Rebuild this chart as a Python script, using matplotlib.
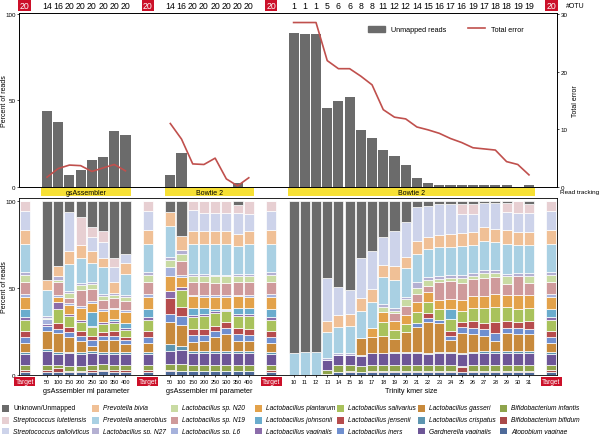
import matplotlib.pyplot as plt
import matplotlib.transforms as mtransforms
import numpy as np
from matplotlib.lines import Line2D
from matplotlib.patches import Patch, Rectangle

plt.rcParams["font.family"] = ["Liberation Sans", "DejaVu Sans"]

# ---- data -------------------------------------------------------------------
species = [
    "Unknown/Unmapped", "Streptococcus lutetiensis", "Streptococcus gallolyticus",
    "Prevotella bivia", "Prevotella anaerobius", "Lactobacillus sp. N27",
    "Lactobacillus sp. N20", "Lactobacillus sp. N19", "Lactobacillus sp. L6",
    "Lactobacillus plantarum", "Lactobacillus johnsonii", "Lactobacillus vaginalis",
    "Lactobacillus salivarius", "Lactobacillus jensenii", "Lactobacillus iners",
    "Lactobacillus gasseri", "Lactobacillus crispatus", "Gardnerella vaginalis",
    "Bifidobacterium infantis", "Bifidobacterium bifidum", "Atopobium vaginae",
]
species_colors = [
    "#6b6b6b", "#e7cfd2", "#cdd3ea", "#f0c096", "#a9d0e3", "#b4b0d2", "#c9dba3",
    "#cf9a9b", "#a6b2dc", "#e3a24a", "#6aaccd", "#8b6caa", "#a9c25c", "#b64c4d",
    "#6f8fcf", "#c88a3c", "#5d95b0", "#6d5697", "#8fa44c", "#a94a4a", "#4e6a99",
]

# percent of reads per species (order as in `species`)
target_comp = [0, 5.5, 11, 8, 16.5, 1.5, 4, 7, 1.5, 7, 4.5, 2, 6, 3.5, 3.5, 5, 1.2, 6.8, 2.7, 0.8, 2]

gs_params = [50, 100, 150, 200, 250, 300, 350, 400]
gs_comp = [
    [45, 0, 0, 6, 15, 1, 0.5, 0, 3, 0, 0, 1, 0, 0, 3, 10, 1, 8, 3, 1, 2],
    [37, 0, 0, 6, 0, 2, 1, 8, 1, 2.5, 0, 4, 8, 3.5, 2.5, 11, 1, 6, 2, 2, 2],
    [6, 0, 22, 7, 15, 1, 3, 3, 1, 5, 0, 1, 6, 3, 3, 8, 1, 7, 2.5, 1, 1.5],
    [9, 16, 0, 7, 14, 1, 3, 9, 1, 7, 0, 1, 5, 3, 3, 6, 1, 7, 2.5, 1, 1.5],
    [15, 6, 8, 7, 11, 1, 3, 7, 1, 5, 8, 1, 5, 2.5, 3, 3, 1, 7, 3, 1, 2],
    [17, 6, 9, 5.5, 15, 1, 2.5, 5, 1, 6.5, 0, 1, 4.5, 2.5, 2, 7, 1, 6, 3, 1, 2],
    [32.5, 5, 9, 6, 0, 1, 2, 5.5, 1, 5.5, 1, 1, 5, 2.5, 2.5, 7, 1, 6, 3, 1, 2],
    [30, 0, 5.5, 6, 12.5, 1, 2, 5.5, 1, 6, 3, 1, 4, 2, 2, 5, 1, 6, 3, 1, 2],
]

bt_params = [50, 100, 150, 200, 250, 300, 350, 400]
bt_comp = [
    [6, 0, 0, 8, 17, 1.5, 4, 0, 5, 8.5, 0, 4, 0, 8.5, 4.5, 12.5, 3.5, 7.5, 3.5, 0.5, 2],
    [20, 0, 0, 8, 0, 2, 4, 8, 1, 6, 0, 1.5, 10, 5, 5, 12, 2.5, 8, 3.5, 0.5, 2],
    [0, 5, 12, 7.5, 17, 1, 3.5, 7, 1, 6.5, 4, 1, 7, 3.5, 4, 5, 1, 7, 3, 0.5, 2],
    [0, 6.5, 10, 7.5, 17, 1, 3.5, 7, 1, 6.5, 3.5, 1, 7, 3.5, 3.5, 5.5, 1, 7, 3, 0.5, 2],
    [0, 6.5, 10, 7.5, 17, 1, 3.5, 7, 1, 6.5, 1.5, 1, 7, 3, 3.5, 7.5, 1, 7, 3, 0.5, 2],
    [0, 6.5, 10, 7.5, 17, 1, 3.5, 7, 1, 6.5, 0.5, 1, 6, 3.5, 3, 9.5, 1, 7, 3, 0.5, 2],
    [2, 4.5, 12, 7, 16, 1, 3.5, 7, 1, 6.5, 3.5, 1, 7, 3.5, 3.5, 6, 1, 7, 3, 0.5, 2],
    [0, 7, 9.5, 7.5, 17, 1, 3.5, 7, 1, 6.5, 3.5, 1, 7, 3.5, 3.5, 5.5, 1, 7, 3, 0.5, 2],
]

kmers = list(range(10, 32))
tr_comp = [
    [87.5, 0, 0, 0, 12.5, 0, 0, 0, 0, 0, 0, 0, 0, 0, 0, 0, 0, 0, 0, 0, 0],
    [86.5, 0, 0, 0, 13.5, 0, 0, 0, 0, 0, 0, 0, 0, 0, 0, 0, 0, 0, 0, 0, 0],
    [86.5, 0, 0, 0, 13.5, 0, 0, 0, 0, 0, 0, 0, 0, 0, 0, 0, 0, 0, 0, 0, 0],
    [44, 0, 24, 6.5, 15, 1, 0, 0, 0, 0, 0, 0, 0, 0, 0, 0, 0, 5.5, 2.5, 0, 0.5],
    [49, 0, 16, 7, 15, 1, 0, 0, 0, 0, 0, 0, 0, 0, 0, 0, 0, 6, 3.5, 0.5, 1.5],
    [50.5, 0, 13.5, 7, 15, 1, 0, 0, 0, 0, 0, 0, 0, 0, 0, 0, 0, 6, 3.5, 0.5, 1.5],
    [32, 0, 23, 7.5, 15, 0, 0, 0, 0, 0, 0, 0, 0, 0, 0, 9.5, 0.5, 6, 3.5, 0, 1.5],
    [28, 0, 21, 7, 15, 0, 0, 0, 0, 5, 0, 0, 0, 0, 0, 9, 0, 6.5, 3.5, 0.5, 1.5],
    [20, 0, 15.5, 7, 15, 1.5, 3, 0, 0, 5.5, 0, 0, 7.5, 0, 0, 9.5, 0.5, 6.5, 3.5, 0.5, 1.5],
    [16, 0, 19, 7.5, 15, 1.5, 1, 4.5, 0, 5, 0, 0, 4.5, 0, 0, 7, 0.5, 6.5, 3.5, 0.5, 1.5],
    [11.5, 0, 19, 6.5, 15.5, 1.5, 3.5, 5, 0, 5, 0, 0, 4.5, 0, 0, 11, 0.5, 6.5, 3.5, 0.5, 1.5],
    [3, 0, 19, 7, 15.5, 3, 3.5, 4.5, 0, 5.5, 0, 0, 6, 0, 2, 14, 0.5, 6.5, 3.5, 0.5, 1.5],
    [2.5, 0, 17.5, 7, 15.5, 2, 3, 3.5, 0, 5.5, 0, 0, 6.5, 2.5, 2.5, 17, 0.5, 6.5, 3.5, 0.5, 1.5],
    [1.5, 0, 17, 6.5, 16, 1.5, 2, 10, 0, 5, 0, 0, 6, 0, 1.5, 16, 0.5, 6.5, 3.5, 0.5, 1.5],
    [1.5, 0, 16.5, 7, 15.5, 1.5, 2, 10, 0, 5, 6, 0, 6.5, 2.5, 2.5, 6.5, 0.5, 6.5, 3.5, 0.5, 1.5],
    [1.5, 5.5, 10, 7, 15.5, 1.5, 2.5, 9, 0, 6, 0, 0, 6, 2.5, 3, 11, 0.5, 6, 0.5, 3, 1.5],
    [1.5, 5.5, 10, 7, 15, 1.5, 2, 9, 0, 6.5, 0, 0, 7, 4, 3, 10, 0.5, 6.5, 3.5, 0.5, 1.5],
    [1, 0, 13, 7.5, 15.5, 1.5, 2.5, 9.5, 0, 6.5, 0, 0, 8, 3.5, 3.5, 8, 1, 6.5, 3.5, 0.5, 1.5],
    [1, 0, 14, 7, 15.5, 1.5, 2.5, 9, 0, 7, 0, 0, 8, 6, 4.5, 5.5, 1, 6.5, 3.5, 0.5, 1.5],
    [1, 5, 9.5, 7.5, 16, 1, 4.5, 6, 0, 6.5, 0, 0, 7.5, 3.5, 3, 9.5, 1, 6.5, 3.5, 0.5, 1.5],
    [0, 6.5, 10, 7, 15, 1.5, 0.5, 10, 0, 7.5, 0, 0, 7, 3, 3.5, 9, 1, 6.5, 3.5, 0.5, 1.5],
    [1.5, 5, 10, 7, 15.5, 1.5, 3.5, 6.5, 0, 7.5, 0, 0, 7, 4, 3, 9, 1, 6.5, 3.5, 0.5, 1.5],
]

# read tracking panel
unmapped_gs = [43.8, 37.4, 7.1, 9.8, 15.4, 17.3, 32.5, 30.1]
unmapped_bt = [7.1, 19.7, 0, 0, 0, 0, 2.3, 0]
unmapped_tr = [89.2, 88.2, 88.6, 45.7, 49.9, 52.0, 32.9, 28.1, 21.6, 17.7, 12.9,
               5.2, 2.5, 1.3, 1.3, 1.3, 1.3, 0.9, 0.9, 0.9, 0, 1.3]
error_gs = [1.7, 3.2, 3.8, 3.7, 2.7, 3.3, 3.9, 2.8]
error_bt = [11.0, 8.3, 4.0, 3.9, 5.0, 1.4, 0.2, 1.6]
error_tr = [28.5, 28.5, 28.5, 21.9, 20.5, 20.5, 19.2, 17.7, 13.4, 12.1, 11.8,
            10.4, 9.9, 9.3, 8.4, 7.7, 6.8, 6.6, 6.4, 4.4, 3.9, 2.1]

otu_target = 20
otu_gs = [14, 16, 20, 20, 20, 20, 20, 20]
otu_bt = [14, 16, 20, 20, 20, 20, 20, 20]
otu_tr = [1, 1, 1, 5, 6, 6, 8, 8, 11, 12, 12, 14, 15, 16, 17, 16, 19, 17, 18, 18, 19, 19]

band_labels = ["gsAssembler", "Bowtie 2", "Bowtie 2"]
group_titles = ["gsAssembler ml parameter", "gsAssembler ml parameter", "Trinity kmer size"]

BAR_GRAY = "#6b6b6b"
ERR_RED = "#c0504d"
BOX_RED = "#cc1029"
BAND_YELLOW = "#f7e034"


def main() -> None:
    # slot layout (one slot per column)
    target_slots = np.array([0, 11, 22, 47])
    gs_slots = np.arange(2, 10)
    bt_slots = np.arange(13, 21)
    tr_slots = np.arange(24, 46)
    groups = [gs_slots, bt_slots, tr_slots]

    fig = plt.figure(figsize=(6, 4.35), dpi=100)
    left, width = 19 / 600, 538 / 600
    ax_top = fig.add_axes([left, 247 / 435, width, 174 / 435])
    ax_band = fig.add_axes([left, 236 / 435, width, 11 / 435])
    ax_bot = fig.add_axes([left, 59 / 435, width, 177 / 435])

    # ---- read tracking ----
    for slots, vals in zip(groups, [unmapped_gs, unmapped_bt, unmapped_tr]):
        ax_top.bar(slots + 0.5, vals, width=0.9, color=BAR_GRAY)
    ax_err = ax_top.twinx()
    for slots, vals in zip(groups, [error_gs, error_bt, error_tr]):
        ax_err.plot(slots + 0.5, vals, color=ERR_RED, lw=1.2)
    ax_top.set_xlim(0, 48)
    ax_top.set_ylim(0, 100.5)
    ax_err.set_ylim(0, 30.15)
    ax_top.set_xticks([])
    ax_top.set_yticks([0, 50, 100])
    ax_err.set_yticks([0, 10, 20, 30])
    for a in (ax_top, ax_err):
        a.tick_params(labelsize=4.5, length=1.5, width=0.5, pad=1)
        for s in a.spines.values():
            s.set_linewidth(0.6)
    ax_top.set_ylabel("Percent of reads", fontsize=5)
    ax_top.yaxis.set_label_coords(-0.021, 0.5)
    ax_err.set_ylabel("Total error", fontsize=5, labelpad=3)
    handles = [Patch(color=BAR_GRAY), Line2D([], [], color=ERR_RED, lw=1.2)]
    ax_err.legend(handles, ["Unmapped reads", "Total error"], ncol=2, frameon=False,
                  fontsize=5.2, loc="upper right", bbox_to_anchor=(0.95, 0.965),
                  handlelength=2.4, handleheight=0.9, columnspacing=3.0)

    # OTU counts above the top panel
    trans = mtransforms.blended_transform_factory(ax_top.transData, ax_top.transAxes)
    for s in target_slots:
        ax_top.text(s + 0.5, 1.045, str(otu_target), transform=trans, ha="center",
                    va="center", fontsize=6.3, color="white",
                    bbox=dict(boxstyle="square,pad=0.15", fc=BOX_RED, ec="none"))
    for slots, vals in zip(groups, [otu_gs, otu_bt, otu_tr]):
        for s, v in zip(slots, vals):
            ax_top.text(s + 0.5, 1.045, str(v), transform=trans, ha="center",
                        va="center", fontsize=6.3)
    fig.text(566 / 600, 1 - 6.5 / 435, "#OTU", fontsize=5, va="center")

    # ---- method bands ----
    ax_band.set_xlim(0, 48)
    ax_band.set_ylim(0, 1)
    ax_band.axis("off")
    for slots, label in zip(groups, band_labels):
        x0, x1 = slots[0], slots[-1] + 1
        ax_band.add_patch(Rectangle((x0, 0.18), x1 - x0, 0.73, color=BAND_YELLOW, lw=0))
        ax_band.text((x0 + x1) / 2, 0.54, label, ha="center", va="center", fontsize=5)
    fig.text(560 / 600, 1 - 193 / 435, "Read tracking", fontsize=4.6, va="center")

    # ---- composition ----
    cols_x = np.concatenate([target_slots, gs_slots, bt_slots, tr_slots]) + 0.5
    comps = np.array([target_comp] * 4 + gs_comp + bt_comp + tr_comp, dtype=float)
    comps = comps / comps.sum(axis=1, keepdims=True) * 100
    bottom = np.zeros(len(cols_x))
    for i in range(len(species) - 1, -1, -1):
        ax_bot.bar(cols_x, comps[:, i], bottom=bottom, width=0.9,
                   color=species_colors[i], edgecolor="white", linewidth=0.5)
        bottom += comps[:, i]
    ax_bot.set_xlim(0, 48)
    ax_bot.set_ylim(0, 101.8)
    ax_bot.set_yticks([0, 50, 100])
    tick_x = np.concatenate([gs_slots, bt_slots, tr_slots]) + 0.5
    tick_lab = [str(v) for v in gs_params + bt_params + kmers]
    ax_bot.set_xticks(tick_x, tick_lab)
    ax_bot.tick_params(labelsize=4, length=1.5, width=0.5, pad=1.5)
    ax_bot.tick_params(axis="y", labelsize=4.5, pad=1)
    for s in ax_bot.spines.values():
        s.set_linewidth(0.6)
    ax_bot.set_ylabel("Percent of reads", fontsize=5)
    ax_bot.yaxis.set_label_coords(-0.021, 0.5)

    btrans = mtransforms.blended_transform_factory(ax_bot.transData, ax_bot.transAxes)
    for s in target_slots:
        ax_bot.text(s + 0.5, -0.036, "Target", transform=btrans, ha="center",
                    va="center", fontsize=4.8, color="white",
                    bbox=dict(boxstyle="square,pad=0.2", fc=BOX_RED, ec="none"))
    for slots, title in zip(groups, group_titles):
        ax_bot.text((slots[0] + slots[-1] + 1) / 2, -0.085, title, transform=btrans,
                    ha="center", va="center", fontsize=5.2)

    # ---- species legend ----
    col_x = [2, 92, 171, 255, 337, 418, 500]
    row_y = [409, 421, 432.5]
    for i, (name, color) in enumerate(zip(species, species_colors)):
        cx, ry = col_x[i // 3], row_y[i % 3]
        fig.patches.append(Rectangle((cx / 600, 1 - (ry + 3.5) / 435), 7 / 600, 7 / 435,
                                     transform=fig.transFigure, color=color, lw=0))
        fig.text((cx + 11) / 600, 1 - ry / 435, name, fontsize=4.8, va="center",
                 style="normal" if i == 0 else "italic")

    fig.savefig("out.png", dpi=100)


if __name__ == "__main__":
    main()
